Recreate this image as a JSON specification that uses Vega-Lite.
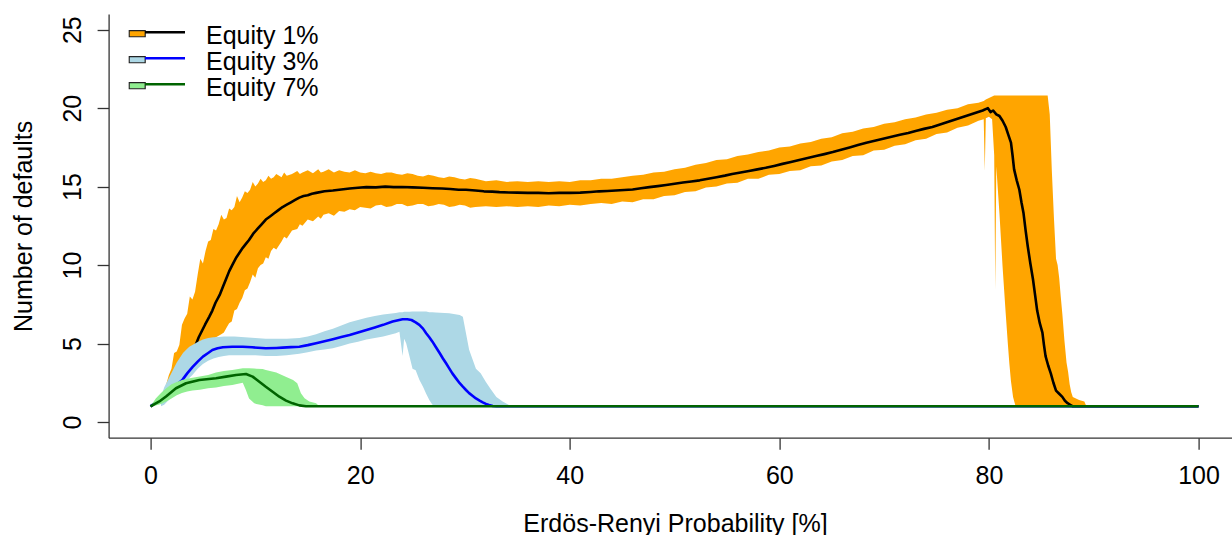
{
  "$schema": "https://vega.github.io/schema/vega-lite/v6.json",
  "width": 1123.4,
  "height": 423.7,
  "autosize": {"type": "none"},
  "padding": {"left": 108.6, "top": 14, "right": 0, "bottom": 97.3},
  "background": "white",
  "config": {
    "view": {"stroke": null},
    "font": "Liberation Sans",
    "axis": {
      "grid": false,
      "domainColor": "#333",
      "domainWidth": 1.3,
      "tickColor": "#333",
      "tickWidth": 1.3,
      "tickSize": 11.5,
      "labelFont": "Liberation Sans",
      "labelFontSize": 25,
      "labelColor": "#000",
      "titleFont": "Liberation Sans",
      "titleFontSize": 25,
      "titleFontWeight": "normal",
      "titleColor": "#000",
      "labelFlush": false,
      "labelOverlap": false
    }
  },
  "datasets": {
    "b1": [
      {"band":"Equity 1%","x":1.5,"lo":2.0,"hi":2.4},{"band":"Equity 1%","x":1.75,"lo":2.2,"hi":3.0},{"band":"Equity 1%","x":2.0,"lo":2.5,"hi":3.4},{"band":"Equity 1%","x":2.25,"lo":2.7,"hi":4.4},
      {"band":"Equity 1%","x":2.5,"lo":3.0,"hi":4.5},{"band":"Equity 1%","x":2.75,"lo":3.2,"hi":4.9},{"band":"Equity 1%","x":3.0,"lo":3.4,"hi":6.2},{"band":"Equity 1%","x":3.25,"lo":3.6,"hi":6.6},
      {"band":"Equity 1%","x":3.5,"lo":3.8,"hi":6.9},{"band":"Equity 1%","x":3.75,"lo":4.0,"hi":8.0},{"band":"Equity 1%","x":4.0,"lo":4.2,"hi":7.8},{"band":"Equity 1%","x":4.25,"lo":4.4,"hi":8.3},
      {"band":"Equity 1%","x":4.5,"lo":4.5,"hi":9.4},{"band":"Equity 1%","x":4.75,"lo":4.6,"hi":10.4},{"band":"Equity 1%","x":5.0,"lo":4.8,"hi":10.1},{"band":"Equity 1%","x":5.25,"lo":4.9,"hi":10.9},
      {"band":"Equity 1%","x":5.5,"lo":5.0,"hi":11.5},{"band":"Equity 1%","x":5.75,"lo":5.2,"hi":11.6},{"band":"Equity 1%","x":6.0,"lo":5.3,"hi":12.3},{"band":"Equity 1%","x":6.25,"lo":5.4,"hi":12.2},
      {"band":"Equity 1%","x":6.5,"lo":5.5,"hi":12.6},{"band":"Equity 1%","x":6.75,"lo":5.6,"hi":13.2},{"band":"Equity 1%","x":7.0,"lo":5.7,"hi":12.9},{"band":"Equity 1%","x":7.25,"lo":6.0,"hi":13.0},
      {"band":"Equity 1%","x":7.5,"lo":6.3,"hi":13.6},{"band":"Equity 1%","x":7.75,"lo":6.4,"hi":13.5},{"band":"Equity 1%","x":8.0,"lo":7.1,"hi":13.7},{"band":"Equity 1%","x":8.25,"lo":7.2,"hi":14.4},
      {"band":"Equity 1%","x":8.5,"lo":7.6,"hi":14.0},{"band":"Equity 1%","x":8.75,"lo":7.9,"hi":14.3},{"band":"Equity 1%","x":9.0,"lo":8.4,"hi":14.7},{"band":"Equity 1%","x":9.25,"lo":8.5,"hi":14.6},
      {"band":"Equity 1%","x":9.5,"lo":8.9,"hi":14.8},{"band":"Equity 1%","x":9.75,"lo":9.4,"hi":15.3},{"band":"Equity 1%","x":10.0,"lo":9.2,"hi":15.0},{"band":"Equity 1%","x":10.25,"lo":9.8,"hi":15.2},
      {"band":"Equity 1%","x":10.5,"lo":10.0,"hi":15.5},{"band":"Equity 1%","x":10.75,"lo":10.1,"hi":15.3},{"band":"Equity 1%","x":11.0,"lo":10.5,"hi":15.4},{"band":"Equity 1%","x":11.25,"lo":10.4,"hi":15.7},
      {"band":"Equity 1%","x":11.5,"lo":10.9,"hi":15.5},{"band":"Equity 1%","x":11.75,"lo":11.1,"hi":15.6},{"band":"Equity 1%","x":12.0,"lo":11.0,"hi":15.8},{"band":"Equity 1%","x":12.5,"lo":11.5,"hi":15.6},
      {"band":"Equity 1%","x":12.75,"lo":11.8,"hi":15.9},{"band":"Equity 1%","x":13.0,"lo":11.7,"hi":15.7},{"band":"Equity 1%","x":13.5,"lo":12.2,"hi":15.8},{"band":"Equity 1%","x":14.0,"lo":12.3,"hi":16.0},
      {"band":"Equity 1%","x":14.25,"lo":12.6,"hi":15.8},{"band":"Equity 1%","x":14.5,"lo":12.5,"hi":15.9},{"band":"Equity 1%","x":15.0,"lo":12.9,"hi":16.05},{"band":"Equity 1%","x":15.5,"lo":12.8,"hi":15.85},
      {"band":"Equity 1%","x":16.0,"lo":13.1,"hi":16.1},{"band":"Equity 1%","x":16.25,"lo":12.95,"hi":15.9},{"band":"Equity 1%","x":16.5,"lo":13.2,"hi":15.95},{"band":"Equity 1%","x":17.0,"lo":13.3,"hi":16.1},
      {"band":"Equity 1%","x":17.5,"lo":13.15,"hi":15.9},{"band":"Equity 1%","x":18.0,"lo":13.45,"hi":16.05},{"band":"Equity 1%","x":18.5,"lo":13.4,"hi":15.95},{"band":"Equity 1%","x":19.0,"lo":13.55,"hi":15.9},
      {"band":"Equity 1%","x":19.5,"lo":13.5,"hi":16.05},{"band":"Equity 1%","x":20.0,"lo":13.7,"hi":15.9},{"band":"Equity 1%","x":20.5,"lo":13.65,"hi":15.85},{"band":"Equity 1%","x":21,"lo":13.6,"hi":15.95},
      {"band":"Equity 1%","x":21.5,"lo":13.8,"hi":15.85},{"band":"Equity 1%","x":22,"lo":13.85,"hi":15.8},{"band":"Equity 1%","x":22.5,"lo":13.7,"hi":15.9},{"band":"Equity 1%","x":23,"lo":13.75,"hi":15.9},
      {"band":"Equity 1%","x":23.5,"lo":13.9,"hi":15.8},{"band":"Equity 1%","x":24,"lo":13.9,"hi":15.75},{"band":"Equity 1%","x":24.5,"lo":13.75,"hi":15.85},{"band":"Equity 1%","x":25,"lo":13.8,"hi":15.8},
      {"band":"Equity 1%","x":25.5,"lo":13.9,"hi":15.7},{"band":"Equity 1%","x":26,"lo":13.9,"hi":15.65},{"band":"Equity 1%","x":26.5,"lo":13.75,"hi":15.75},{"band":"Equity 1%","x":27,"lo":13.8,"hi":15.7},
      {"band":"Equity 1%","x":27.5,"lo":13.9,"hi":15.6},{"band":"Equity 1%","x":28,"lo":13.85,"hi":15.55},{"band":"Equity 1%","x":28.5,"lo":13.7,"hi":15.65},{"band":"Equity 1%","x":29,"lo":13.75,"hi":15.6},
      {"band":"Equity 1%","x":29.5,"lo":13.85,"hi":15.5},{"band":"Equity 1%","x":30,"lo":13.8,"hi":15.45},{"band":"Equity 1%","x":30.5,"lo":13.65,"hi":15.55},{"band":"Equity 1%","x":31,"lo":13.7,"hi":15.5},
      {"band":"Equity 1%","x":32,"lo":13.75,"hi":15.35},{"band":"Equity 1%","x":33,"lo":13.7,"hi":15.4},{"band":"Equity 1%","x":34,"lo":13.75,"hi":15.3},{"band":"Equity 1%","x":35,"lo":13.7,"hi":15.35},
      {"band":"Equity 1%","x":36,"lo":13.75,"hi":15.3},{"band":"Equity 1%","x":37,"lo":13.7,"hi":15.35},{"band":"Equity 1%","x":38,"lo":13.8,"hi":15.3},{"band":"Equity 1%","x":39,"lo":13.75,"hi":15.35},
      {"band":"Equity 1%","x":40,"lo":13.85,"hi":15.3},{"band":"Equity 1%","x":41,"lo":13.8,"hi":15.4},{"band":"Equity 1%","x":42,"lo":13.9,"hi":15.4},{"band":"Equity 1%","x":43,"lo":13.95,"hi":15.5},
      {"band":"Equity 1%","x":44,"lo":13.9,"hi":15.5},{"band":"Equity 1%","x":45,"lo":14.05,"hi":15.6},{"band":"Equity 1%","x":46,"lo":14.0,"hi":15.7},{"band":"Equity 1%","x":47,"lo":14.2,"hi":15.75},
      {"band":"Equity 1%","x":48,"lo":14.2,"hi":15.9},{"band":"Equity 1%","x":49,"lo":14.4,"hi":15.95},{"band":"Equity 1%","x":50,"lo":14.45,"hi":16.1},{"band":"Equity 1%","x":51,"lo":14.65,"hi":16.2},
      {"band":"Equity 1%","x":52,"lo":14.7,"hi":16.4},{"band":"Equity 1%","x":53,"lo":14.95,"hi":16.5},{"band":"Equity 1%","x":54,"lo":15.0,"hi":16.7},{"band":"Equity 1%","x":55,"lo":15.2,"hi":16.75},
      {"band":"Equity 1%","x":56,"lo":15.25,"hi":16.95},{"band":"Equity 1%","x":57,"lo":15.5,"hi":17.05},{"band":"Equity 1%","x":58,"lo":15.5,"hi":17.2},{"band":"Equity 1%","x":59,"lo":15.75,"hi":17.3},
      {"band":"Equity 1%","x":60,"lo":15.8,"hi":17.5},{"band":"Equity 1%","x":61,"lo":16.0,"hi":17.55},{"band":"Equity 1%","x":62,"lo":16.05,"hi":17.75},{"band":"Equity 1%","x":63,"lo":16.3,"hi":17.85},
      {"band":"Equity 1%","x":64,"lo":16.35,"hi":18.05},{"band":"Equity 1%","x":65,"lo":16.6,"hi":18.15},{"band":"Equity 1%","x":66,"lo":16.7,"hi":18.4},{"band":"Equity 1%","x":67,"lo":16.95,"hi":18.5},
      {"band":"Equity 1%","x":68,"lo":17.0,"hi":18.7},{"band":"Equity 1%","x":69,"lo":17.3,"hi":18.8},{"band":"Equity 1%","x":70,"lo":17.35,"hi":19.0},{"band":"Equity 1%","x":71,"lo":17.6,"hi":19.1},
      {"band":"Equity 1%","x":72,"lo":17.7,"hi":19.3},{"band":"Equity 1%","x":73,"lo":17.95,"hi":19.4},{"band":"Equity 1%","x":74,"lo":18.05,"hi":19.6},{"band":"Equity 1%","x":75,"lo":18.35,"hi":19.7},
      {"band":"Equity 1%","x":76,"lo":18.45,"hi":19.9},{"band":"Equity 1%","x":77,"lo":18.75,"hi":20.0},{"band":"Equity 1%","x":78,"lo":18.9,"hi":20.25},{"band":"Equity 1%","x":79,"lo":19.2,"hi":20.35},
      {"band":"Equity 1%","x":79.5,"lo":19.3,"hi":20.45},{"band":"Equity 1%","x":79.6,"lo":16.0,"hi":20.5},{"band":"Equity 1%","x":79.7,"lo":19.35,"hi":20.55},{"band":"Equity 1%","x":80.0,"lo":19.45,"hi":20.65},
      {"band":"Equity 1%","x":80.3,"lo":19.3,"hi":20.75},{"band":"Equity 1%","x":80.5,"lo":17.0,"hi":20.8},{"band":"Equity 1%","x":80.6,"lo":8.4,"hi":20.8},{"band":"Equity 1%","x":80.7,"lo":16.3,"hi":20.8},
      {"band":"Equity 1%","x":80.85,"lo":14.8,"hi":20.8},{"band":"Equity 1%","x":81.0,"lo":13.3,"hi":20.8},{"band":"Equity 1%","x":81.15,"lo":11.6,"hi":20.8},{"band":"Equity 1%","x":81.3,"lo":9.9,"hi":20.8},
      {"band":"Equity 1%","x":81.45,"lo":8.4,"hi":20.8},{"band":"Equity 1%","x":81.6,"lo":6.9,"hi":20.8},{"band":"Equity 1%","x":81.8,"lo":5.0,"hi":20.8},{"band":"Equity 1%","x":81.95,"lo":3.7,"hi":20.8},
      {"band":"Equity 1%","x":82.1,"lo":2.6,"hi":20.8},{"band":"Equity 1%","x":82.3,"lo":1.6,"hi":20.8},{"band":"Equity 1%","x":82.5,"lo":1.1,"hi":20.8},{"band":"Equity 1%","x":82.6,"lo":1.0,"hi":20.8},
      {"band":"Equity 1%","x":84.0,"lo":1.0,"hi":20.8},{"band":"Equity 1%","x":85.6,"lo":1.0,"hi":20.8},{"band":"Equity 1%","x":85.8,"lo":1.0,"hi":19.6},{"band":"Equity 1%","x":86.0,"lo":1.0,"hi":16.0},
      {"band":"Equity 1%","x":86.2,"lo":1.0,"hi":13.0},{"band":"Equity 1%","x":86.4,"lo":1.0,"hi":10.4},{"band":"Equity 1%","x":86.55,"lo":1.0,"hi":10.0},{"band":"Equity 1%","x":86.7,"lo":1.0,"hi":9.2},
      {"band":"Equity 1%","x":86.85,"lo":1.0,"hi":8.0},{"band":"Equity 1%","x":87.0,"lo":1.0,"hi":6.9},{"band":"Equity 1%","x":87.2,"lo":1.0,"hi":5.2},{"band":"Equity 1%","x":87.4,"lo":1.0,"hi":3.8},
      {"band":"Equity 1%","x":87.55,"lo":1.0,"hi":3.2},{"band":"Equity 1%","x":87.7,"lo":1.0,"hi":2.4},{"band":"Equity 1%","x":87.85,"lo":1.0,"hi":1.9},{"band":"Equity 1%","x":88.0,"lo":1.0,"hi":1.6},
      {"band":"Equity 1%","x":88.3,"lo":1.0,"hi":1.5},{"band":"Equity 1%","x":88.6,"lo":1.0,"hi":1.4},{"band":"Equity 1%","x":89.1,"lo":1.0,"hi":1.3},{"band":"Equity 1%","x":89.3,"lo":1.0,"hi":1.0}
    ],
    "l1": [
      {"series":"Equity 1%","x":0,"y":1.0},{"series":"Equity 1%","x":1,"y":1.4},{"series":"Equity 1%","x":2,"y":2.2},{"series":"Equity 1%","x":3,"y":3.3},
      {"series":"Equity 1%","x":3.5,"y":3.9},{"series":"Equity 1%","x":4.0,"y":4.5},{"series":"Equity 1%","x":4.3,"y":4.9},{"series":"Equity 1%","x":4.6,"y":5.4},
      {"series":"Equity 1%","x":4.9,"y":5.8},{"series":"Equity 1%","x":5.2,"y":6.2},{"series":"Equity 1%","x":5.6,"y":6.7},{"series":"Equity 1%","x":5.9,"y":7.1},
      {"series":"Equity 1%","x":6.2,"y":7.6},{"series":"Equity 1%","x":6.6,"y":8.1},{"series":"Equity 1%","x":6.9,"y":8.6},{"series":"Equity 1%","x":7.2,"y":9.1},
      {"series":"Equity 1%","x":7.5,"y":9.6},{"series":"Equity 1%","x":7.8,"y":10.0},{"series":"Equity 1%","x":8.2,"y":10.5},{"series":"Equity 1%","x":8.5,"y":10.8},
      {"series":"Equity 1%","x":8.8,"y":11.1},{"series":"Equity 1%","x":9.1,"y":11.35},{"series":"Equity 1%","x":9.4,"y":11.6},{"series":"Equity 1%","x":9.8,"y":12.0},
      {"series":"Equity 1%","x":10.2,"y":12.3},{"series":"Equity 1%","x":10.6,"y":12.6},{"series":"Equity 1%","x":11.0,"y":12.9},{"series":"Equity 1%","x":11.4,"y":13.1},
      {"series":"Equity 1%","x":11.8,"y":13.3},{"series":"Equity 1%","x":12.2,"y":13.5},{"series":"Equity 1%","x":12.6,"y":13.7},{"series":"Equity 1%","x":13.0,"y":13.85},
      {"series":"Equity 1%","x":13.4,"y":14.0},{"series":"Equity 1%","x":13.8,"y":14.15},{"series":"Equity 1%","x":14.2,"y":14.3},{"series":"Equity 1%","x":14.6,"y":14.4},
      {"series":"Equity 1%","x":15.0,"y":14.45},{"series":"Equity 1%","x":15.4,"y":14.55},{"series":"Equity 1%","x":15.8,"y":14.6},{"series":"Equity 1%","x":16.6,"y":14.7},
      {"series":"Equity 1%","x":17.4,"y":14.75},{"series":"Equity 1%","x":18.2,"y":14.82},{"series":"Equity 1%","x":19.0,"y":14.88},{"series":"Equity 1%","x":19.8,"y":14.93},
      {"series":"Equity 1%","x":20.6,"y":14.97},{"series":"Equity 1%","x":21.5,"y":14.95},{"series":"Equity 1%","x":22.4,"y":15.0},{"series":"Equity 1%","x":23.2,"y":14.97},
      {"series":"Equity 1%","x":24.0,"y":14.98},{"series":"Equity 1%","x":25.0,"y":14.95},{"series":"Equity 1%","x":26.0,"y":14.93},{"series":"Equity 1%","x":26.9,"y":14.9},
      {"series":"Equity 1%","x":27.8,"y":14.88},{"series":"Equity 1%","x":28.6,"y":14.85},{"series":"Equity 1%","x":29.4,"y":14.8},{"series":"Equity 1%","x":30.1,"y":14.8},
      {"series":"Equity 1%","x":31.0,"y":14.75},{"series":"Equity 1%","x":31.8,"y":14.7},{"series":"Equity 1%","x":32.6,"y":14.68},{"series":"Equity 1%","x":33.3,"y":14.65},
      {"series":"Equity 1%","x":34.2,"y":14.63},{"series":"Equity 1%","x":35.0,"y":14.62},{"series":"Equity 1%","x":36.0,"y":14.6},{"series":"Equity 1%","x":37.0,"y":14.6},
      {"series":"Equity 1%","x":38.0,"y":14.58},{"series":"Equity 1%","x":39.0,"y":14.6},{"series":"Equity 1%","x":40.0,"y":14.6},{"series":"Equity 1%","x":41.0,"y":14.62},
      {"series":"Equity 1%","x":42.0,"y":14.66},{"series":"Equity 1%","x":42.8,"y":14.7},{"series":"Equity 1%","x":43.6,"y":14.72},{"series":"Equity 1%","x":44.4,"y":14.75},
      {"series":"Equity 1%","x":45.2,"y":14.78},{"series":"Equity 1%","x":46.0,"y":14.82},{"series":"Equity 1%","x":46.8,"y":14.9},{"series":"Equity 1%","x":47.6,"y":14.97},
      {"series":"Equity 1%","x":48.4,"y":15.03},{"series":"Equity 1%","x":49.2,"y":15.1},{"series":"Equity 1%","x":50.0,"y":15.18},{"series":"Equity 1%","x":50.8,"y":15.26},
      {"series":"Equity 1%","x":51.6,"y":15.33},{"series":"Equity 1%","x":52.4,"y":15.4},{"series":"Equity 1%","x":53.2,"y":15.5},{"series":"Equity 1%","x":54.0,"y":15.6},
      {"series":"Equity 1%","x":54.8,"y":15.7},{"series":"Equity 1%","x":55.5,"y":15.8},{"series":"Equity 1%","x":56.3,"y":15.9},{"series":"Equity 1%","x":57.1,"y":16.0},
      {"series":"Equity 1%","x":57.9,"y":16.1},{"series":"Equity 1%","x":58.7,"y":16.2},{"series":"Equity 1%","x":59.5,"y":16.32},{"series":"Equity 1%","x":60.3,"y":16.45},
      {"series":"Equity 1%","x":61.1,"y":16.57},{"series":"Equity 1%","x":61.9,"y":16.7},{"series":"Equity 1%","x":62.7,"y":16.82},{"series":"Equity 1%","x":63.5,"y":16.95},
      {"series":"Equity 1%","x":64.3,"y":17.07},{"series":"Equity 1%","x":65.1,"y":17.2},{"series":"Equity 1%","x":65.9,"y":17.35},{"series":"Equity 1%","x":66.7,"y":17.5},
      {"series":"Equity 1%","x":67.5,"y":17.65},{"series":"Equity 1%","x":68.3,"y":17.8},{"series":"Equity 1%","x":69.1,"y":17.93},{"series":"Equity 1%","x":69.9,"y":18.05},
      {"series":"Equity 1%","x":70.7,"y":18.18},{"series":"Equity 1%","x":71.5,"y":18.3},{"series":"Equity 1%","x":72.3,"y":18.42},{"series":"Equity 1%","x":73.0,"y":18.55},
      {"series":"Equity 1%","x":73.8,"y":18.68},{"series":"Equity 1%","x":74.6,"y":18.8},{"series":"Equity 1%","x":75.4,"y":18.97},{"series":"Equity 1%","x":76.2,"y":19.15},
      {"series":"Equity 1%","x":77.0,"y":19.33},{"series":"Equity 1%","x":77.8,"y":19.5},{"series":"Equity 1%","x":78.6,"y":19.68},{"series":"Equity 1%","x":79.4,"y":19.85},
      {"series":"Equity 1%","x":79.9,"y":20.0},{"series":"Equity 1%","x":80.15,"y":19.75},{"series":"Equity 1%","x":80.4,"y":19.85},{"series":"Equity 1%","x":80.7,"y":19.6},
      {"series":"Equity 1%","x":81.0,"y":19.5},{"series":"Equity 1%","x":81.3,"y":19.2},{"series":"Equity 1%","x":81.6,"y":18.8},{"series":"Equity 1%","x":81.85,"y":18.3},
      {"series":"Equity 1%","x":82.1,"y":17.8},{"series":"Equity 1%","x":82.25,"y":17.0},{"series":"Equity 1%","x":82.4,"y":16.1},{"series":"Equity 1%","x":82.65,"y":15.4},
      {"series":"Equity 1%","x":82.9,"y":14.8},{"series":"Equity 1%","x":83.1,"y":14.0},{"series":"Equity 1%","x":83.3,"y":13.3},{"series":"Equity 1%","x":83.5,"y":12.2},
      {"series":"Equity 1%","x":83.7,"y":11.2},{"series":"Equity 1%","x":83.95,"y":10.1},{"series":"Equity 1%","x":84.2,"y":9.1},{"series":"Equity 1%","x":84.4,"y":8.1},
      {"series":"Equity 1%","x":84.6,"y":7.1},{"series":"Equity 1%","x":84.85,"y":6.3},{"series":"Equity 1%","x":85.1,"y":5.7},{"series":"Equity 1%","x":85.25,"y":4.9},
      {"series":"Equity 1%","x":85.4,"y":4.2},{"series":"Equity 1%","x":85.65,"y":3.6},{"series":"Equity 1%","x":85.9,"y":3.1},{"series":"Equity 1%","x":86.15,"y":2.5},
      {"series":"Equity 1%","x":86.4,"y":2.0},{"series":"Equity 1%","x":86.7,"y":1.8},{"series":"Equity 1%","x":87.0,"y":1.6},{"series":"Equity 1%","x":87.25,"y":1.35},
      {"series":"Equity 1%","x":87.5,"y":1.2},{"series":"Equity 1%","x":87.75,"y":1.1},{"series":"Equity 1%","x":88.0,"y":1.0},{"series":"Equity 1%","x":100,"y":1.0}
    ],
    "b3": [
      {"band":"Equity 3%","x":1.0,"lo":1.0,"hi":1.6},{"band":"Equity 3%","x":1.3,"lo":1.1,"hi":2.2},{"band":"Equity 3%","x":1.6,"lo":1.3,"hi":2.6},{"band":"Equity 3%","x":1.9,"lo":1.5,"hi":3.0},
      {"band":"Equity 3%","x":2.2,"lo":1.7,"hi":3.4},{"band":"Equity 3%","x":2.5,"lo":1.9,"hi":3.8},{"band":"Equity 3%","x":2.8,"lo":2.1,"hi":4.1},{"band":"Equity 3%","x":3.1,"lo":2.3,"hi":4.4},
      {"band":"Equity 3%","x":3.4,"lo":2.6,"hi":4.6},{"band":"Equity 3%","x":3.7,"lo":2.8,"hi":4.8},{"band":"Equity 3%","x":4.0,"lo":3.0,"hi":4.9},{"band":"Equity 3%","x":4.5,"lo":3.4,"hi":5.1},
      {"band":"Equity 3%","x":5.0,"lo":3.7,"hi":5.25},{"band":"Equity 3%","x":5.5,"lo":3.9,"hi":5.35},{"band":"Equity 3%","x":6.0,"lo":4.05,"hi":5.4},{"band":"Equity 3%","x":6.5,"lo":4.15,"hi":5.42},
      {"band":"Equity 3%","x":7.0,"lo":4.2,"hi":5.45},{"band":"Equity 3%","x":7.5,"lo":4.25,"hi":5.45},{"band":"Equity 3%","x":8.0,"lo":4.25,"hi":5.45},{"band":"Equity 3%","x":9.0,"lo":4.25,"hi":5.4},
      {"band":"Equity 3%","x":10.0,"lo":4.25,"hi":5.35},{"band":"Equity 3%","x":11.0,"lo":4.2,"hi":5.3},{"band":"Equity 3%","x":12.0,"lo":4.2,"hi":5.3},{"band":"Equity 3%","x":13.0,"lo":4.25,"hi":5.3},
      {"band":"Equity 3%","x":14.2,"lo":4.35,"hi":5.35},{"band":"Equity 3%","x":15.0,"lo":4.45,"hi":5.45},{"band":"Equity 3%","x":15.8,"lo":4.55,"hi":5.6},{"band":"Equity 3%","x":16.6,"lo":4.62,"hi":5.78},
      {"band":"Equity 3%","x":17.4,"lo":4.7,"hi":5.95},{"band":"Equity 3%","x":18.2,"lo":4.85,"hi":6.15},{"band":"Equity 3%","x":19.0,"lo":5.0,"hi":6.35},{"band":"Equity 3%","x":19.8,"lo":5.12,"hi":6.5},
      {"band":"Equity 3%","x":20.6,"lo":5.25,"hi":6.65},{"band":"Equity 3%","x":21.4,"lo":5.35,"hi":6.75},{"band":"Equity 3%","x":22.2,"lo":5.45,"hi":6.85},{"band":"Equity 3%","x":23.4,"lo":5.65,"hi":6.95},
      {"band":"Equity 3%","x":23.75,"lo":5.75,"hi":7.0},{"band":"Equity 3%","x":24.05,"lo":4.2,"hi":7.0},{"band":"Equity 3%","x":24.2,"lo":5.3,"hi":7.02},{"band":"Equity 3%","x":24.4,"lo":5.0,"hi":7.03},
      {"band":"Equity 3%","x":24.7,"lo":4.2,"hi":7.03},{"band":"Equity 3%","x":25.0,"lo":3.4,"hi":7.04},{"band":"Equity 3%","x":25.3,"lo":3.3,"hi":7.04},{"band":"Equity 3%","x":25.65,"lo":2.7,"hi":7.04},
      {"band":"Equity 3%","x":26.0,"lo":2.25,"hi":7.04},{"band":"Equity 3%","x":26.3,"lo":1.8,"hi":7.04},{"band":"Equity 3%","x":26.6,"lo":1.4,"hi":7.0},{"band":"Equity 3%","x":26.9,"lo":1.1,"hi":7.0},
      {"band":"Equity 3%","x":27.2,"lo":1.0,"hi":6.98},{"band":"Equity 3%","x":28.5,"lo":1.0,"hi":6.93},{"band":"Equity 3%","x":29.5,"lo":1.0,"hi":6.82},{"band":"Equity 3%","x":29.8,"lo":1.0,"hi":6.7},
      {"band":"Equity 3%","x":30.1,"lo":1.0,"hi":5.65},{"band":"Equity 3%","x":30.4,"lo":1.0,"hi":4.6},{"band":"Equity 3%","x":30.75,"lo":1.0,"hi":3.95},{"band":"Equity 3%","x":31.05,"lo":1.0,"hi":3.4},
      {"band":"Equity 3%","x":31.5,"lo":1.0,"hi":3.1},{"band":"Equity 3%","x":32.0,"lo":1.0,"hi":2.55},{"band":"Equity 3%","x":32.5,"lo":1.0,"hi":2.05},{"band":"Equity 3%","x":33.0,"lo":1.0,"hi":1.6},
      {"band":"Equity 3%","x":33.6,"lo":1.0,"hi":1.3},{"band":"Equity 3%","x":34.2,"lo":1.0,"hi":1.08},{"band":"Equity 3%","x":34.5,"lo":1.0,"hi":1.0}
    ],
    "l3": [
      {"series":"Equity 3%","x":0,"y":1.0},{"series":"Equity 3%","x":1.0,"y":1.5},{"series":"Equity 3%","x":2.0,"y":2.1},{"series":"Equity 3%","x":3.06,"y":2.7},
      {"series":"Equity 3%","x":3.5,"y":3.1},{"series":"Equity 3%","x":4.0,"y":3.5},{"series":"Equity 3%","x":4.5,"y":3.85},{"series":"Equity 3%","x":5.0,"y":4.17},
      {"series":"Equity 3%","x":5.5,"y":4.4},{"series":"Equity 3%","x":5.9,"y":4.59},{"series":"Equity 3%","x":6.4,"y":4.7},{"series":"Equity 3%","x":6.9,"y":4.76},
      {"series":"Equity 3%","x":7.8,"y":4.8},{"series":"Equity 3%","x":8.8,"y":4.8},{"series":"Equity 3%","x":9.7,"y":4.76},{"series":"Equity 3%","x":11.0,"y":4.7},
      {"series":"Equity 3%","x":12.0,"y":4.72},{"series":"Equity 3%","x":12.6,"y":4.74},{"series":"Equity 3%","x":13.4,"y":4.77},{"series":"Equity 3%","x":14.2,"y":4.8},
      {"series":"Equity 3%","x":15.0,"y":4.9},{"series":"Equity 3%","x":15.8,"y":5.02},{"series":"Equity 3%","x":16.6,"y":5.14},{"series":"Equity 3%","x":17.4,"y":5.27},
      {"series":"Equity 3%","x":18.2,"y":5.41},{"series":"Equity 3%","x":19.0,"y":5.55},{"series":"Equity 3%","x":19.8,"y":5.71},{"series":"Equity 3%","x":20.6,"y":5.87},
      {"series":"Equity 3%","x":21.4,"y":6.03},{"series":"Equity 3%","x":22.2,"y":6.19},{"series":"Equity 3%","x":23.1,"y":6.4},{"series":"Equity 3%","x":24.05,"y":6.55},
      {"series":"Equity 3%","x":24.5,"y":6.55},{"series":"Equity 3%","x":24.9,"y":6.5},{"series":"Equity 3%","x":25.3,"y":6.35},{"series":"Equity 3%","x":25.65,"y":6.19},
      {"series":"Equity 3%","x":26.0,"y":5.95},{"series":"Equity 3%","x":26.3,"y":5.66},{"series":"Equity 3%","x":26.6,"y":5.4},{"series":"Equity 3%","x":26.9,"y":5.12},
      {"series":"Equity 3%","x":27.25,"y":4.75},{"series":"Equity 3%","x":27.6,"y":4.38},{"series":"Equity 3%","x":27.9,"y":4.05},{"series":"Equity 3%","x":28.2,"y":3.74},
      {"series":"Equity 3%","x":28.5,"y":3.42},{"series":"Equity 3%","x":28.8,"y":3.1},{"series":"Equity 3%","x":29.15,"y":2.78},{"series":"Equity 3%","x":29.5,"y":2.47},
      {"series":"Equity 3%","x":29.8,"y":2.25},{"series":"Equity 3%","x":30.1,"y":2.04},{"series":"Equity 3%","x":30.4,"y":1.84},{"series":"Equity 3%","x":30.75,"y":1.66},
      {"series":"Equity 3%","x":31.05,"y":1.5},{"series":"Equity 3%","x":31.4,"y":1.36},{"series":"Equity 3%","x":31.7,"y":1.25},{"series":"Equity 3%","x":32.0,"y":1.15},
      {"series":"Equity 3%","x":32.3,"y":1.08},{"series":"Equity 3%","x":32.65,"y":1.02},{"series":"Equity 3%","x":33.0,"y":1.0},{"series":"Equity 3%","x":100,"y":1.0}
    ],
    "b7": [
      {"band":"Equity 7%","x":0.0,"lo":1.0,"hi":1.0},{"band":"Equity 7%","x":0.5,"lo":1.05,"hi":1.5},{"band":"Equity 7%","x":1.0,"lo":1.15,"hi":1.85},{"band":"Equity 7%","x":1.5,"lo":1.3,"hi":2.15},
      {"band":"Equity 7%","x":2.0,"lo":1.5,"hi":2.4},{"band":"Equity 7%","x":2.5,"lo":1.7,"hi":2.55},{"band":"Equity 7%","x":3.0,"lo":1.85,"hi":2.68},{"band":"Equity 7%","x":3.5,"lo":1.95,"hi":2.75},
      {"band":"Equity 7%","x":4.0,"lo":2.0,"hi":2.82},{"band":"Equity 7%","x":4.7,"lo":2.05,"hi":2.9},{"band":"Equity 7%","x":5.5,"lo":2.15,"hi":3.0},{"band":"Equity 7%","x":6.25,"lo":2.2,"hi":3.15},
      {"band":"Equity 7%","x":7.0,"lo":2.3,"hi":3.25},{"band":"Equity 7%","x":7.8,"lo":2.36,"hi":3.32},{"band":"Equity 7%","x":8.8,"lo":2.5,"hi":3.42},{"band":"Equity 7%","x":9.1,"lo":2.04,"hi":3.42},
      {"band":"Equity 7%","x":9.4,"lo":1.5,"hi":3.42},{"band":"Equity 7%","x":9.9,"lo":1.2,"hi":3.41},{"band":"Equity 7%","x":10.1,"lo":1.15,"hi":3.4},{"band":"Equity 7%","x":10.7,"lo":1.06,"hi":3.38},
      {"band":"Equity 7%","x":11.0,"lo":1.0,"hi":3.32},{"band":"Equity 7%","x":12.0,"lo":1.0,"hi":3.15},{"band":"Equity 7%","x":12.9,"lo":1.0,"hi":2.89},{"band":"Equity 7%","x":13.6,"lo":1.0,"hi":2.68},
      {"band":"Equity 7%","x":14.0,"lo":1.0,"hi":2.47},{"band":"Equity 7%","x":14.35,"lo":1.0,"hi":1.83},{"band":"Equity 7%","x":14.7,"lo":1.0,"hi":1.51},{"band":"Equity 7%","x":15.15,"lo":1.0,"hi":1.3},
      {"band":"Equity 7%","x":15.8,"lo":1.0,"hi":1.19},{"band":"Equity 7%","x":16.1,"lo":1.0,"hi":1.0}
    ],
    "l7": [
      {"series":"Equity 7%","x":0.0,"y":1.0},{"series":"Equity 7%","x":0.84,"y":1.31},{"series":"Equity 7%","x":1.48,"y":1.63},{"series":"Equity 7%","x":2.43,"y":2.15},
      {"series":"Equity 7%","x":3.39,"y":2.47},{"series":"Equity 7%","x":4.66,"y":2.68},{"series":"Equity 7%","x":6.25,"y":2.79},{"series":"Equity 7%","x":7.2,"y":2.89},
      {"series":"Equity 7%","x":8.16,"y":3.0},{"series":"Equity 7%","x":9.11,"y":3.06},{"series":"Equity 7%","x":9.74,"y":2.89},{"series":"Equity 7%","x":10.38,"y":2.57},
      {"series":"Equity 7%","x":11.0,"y":2.25},{"series":"Equity 7%","x":11.65,"y":1.93},{"series":"Equity 7%","x":12.29,"y":1.61},{"series":"Equity 7%","x":12.93,"y":1.36},
      {"series":"Equity 7%","x":13.56,"y":1.19},{"series":"Equity 7%","x":14.2,"y":1.06},{"series":"Equity 7%","x":14.83,"y":1.0},{"series":"Equity 7%","x":100,"y":1.0}
    ]
  },
  "layer": [
    {
      "data": {"name": "b1"},
      "mark": {"type": "area", "opacity": 1, "interpolate": "linear"},
      "encoding": {
        "x": {
          "field": "x", "type": "quantitative", "title": "Erdös-Renyi Probability [%]",
          "scale": {"domain": [-4, 103.19], "nice": false, "zero": false},
          "axis": {
            "values": [0, 20, 40, 60, 80, 100],
            "labelAlign": "center", "labelBaseline": "alphabetic", "labelPadding": 33.8,
            "titleX": 566.4, "titleY": 93.6, "titleAlign": "center", "titleBaseline": "alphabetic"
          }
        },
        "y": {
          "field": "hi", "type": "quantitative", "title": "Number of defaults",
          "scale": {"domain": [-1, 26], "nice": false, "zero": false},
          "axis": {
            "values": [0, 5, 10, 15, 20, 25],
            "labelAngle": 270, "labelAlign": "center", "labelBaseline": "alphabetic", "labelPadding": 17.1,
            "titleAngle": 270, "titleX": -77.3, "titleY": 211.85, "titleAlign": "center", "titleBaseline": "alphabetic"
          }
        },
        "y2": {"field": "lo"},
        "fill": {
          "field": "band", "type": "nominal",
          "scale": {"range": ["#FFA500", "#ADD8E6", "#90EE90"]},
          "legend": {
            "orient": "none", "legendX": 19.6, "legendY": 9.4, "title": null, "padding": 0, "direction": "vertical",
            "symbolType": "M-1,-0.38H1V0.38H-1Z", "symbolSize": 256, "symbolOpacity": 1,
            "symbolStrokeColor": "#222", "symbolStrokeWidth": 1.2,
            "clipHeight": 25.8, "rowPadding": 0, "labelFontSize": 10, "labelOpacity": 0,
            "encode": {"symbols": {"update": {"y": {"value": 10.3}, "stroke": {"value": "#222"}, "strokeWidth": {"value": 1.2}}}}
          }
        }
      }
    },
    {
      "data": {"name": "l1"},
      "mark": {"type": "line", "strokeWidth": 2.6, "strokeJoin": "round"},
      "encoding": {
        "x": {"field": "x", "type": "quantitative", "title": "Erdös-Renyi Probability [%]"},
        "y": {"field": "y", "type": "quantitative", "title": "Number of defaults"},
        "stroke": {
          "field": "series", "type": "nominal",
          "scale": {"range": ["#000000", "#0000FF", "#006400"]},
          "legend": {
            "orient": "none", "legendX": 34.9, "legendY": 9.4, "title": null, "padding": 0, "direction": "vertical",
            "symbolType": "M-1,0H1", "symbolSize": 1600, "symbolStrokeWidth": 2.6, "symbolOpacity": 1,
            "clipHeight": 25.8, "rowPadding": 0,
            "labelFont": "Liberation Sans", "labelFontSize": 25, "labelColor": "#000", "labelOffset": 19.5,
            "labelBaseline": "alphabetic", "labelLimit": 400,
            "encode": {
              "symbols": {"update": {"y": {"value": 8.9}}},
              "labels": {"update": {"dy": {"value": 7.5}}}
            }
          }
        }
      }
    },
    {
      "data": {"name": "b3"},
      "mark": {"type": "area", "opacity": 1, "interpolate": "linear"},
      "encoding": {
        "x": {"field": "x", "type": "quantitative", "title": "Erdös-Renyi Probability [%]"},
        "y": {"field": "hi", "type": "quantitative", "title": "Number of defaults"},
        "y2": {"field": "lo"},
        "fill": {"field": "band", "type": "nominal"}
      }
    },
    {
      "data": {"name": "l3"},
      "mark": {"type": "line", "strokeWidth": 2.6, "strokeJoin": "round"},
      "encoding": {
        "x": {"field": "x", "type": "quantitative", "title": "Erdös-Renyi Probability [%]"},
        "y": {"field": "y", "type": "quantitative", "title": "Number of defaults"},
        "stroke": {"field": "series", "type": "nominal"}
      }
    },
    {
      "data": {"name": "b7"},
      "mark": {"type": "area", "opacity": 1, "interpolate": "linear"},
      "encoding": {
        "x": {"field": "x", "type": "quantitative", "title": "Erdös-Renyi Probability [%]"},
        "y": {"field": "hi", "type": "quantitative", "title": "Number of defaults"},
        "y2": {"field": "lo"},
        "fill": {"field": "band", "type": "nominal"}
      }
    },
    {
      "data": {"name": "l7"},
      "mark": {"type": "line", "strokeWidth": 2.6, "strokeJoin": "round"},
      "encoding": {
        "x": {"field": "x", "type": "quantitative", "title": "Erdös-Renyi Probability [%]"},
        "y": {"field": "y", "type": "quantitative", "title": "Number of defaults"},
        "stroke": {"field": "series", "type": "nominal"}
      }
    },
    {
      "mark": {"type": "rule", "color": "#333", "strokeWidth": 1.3},
      "encoding": {"y": {"datum": 26}}
    }
  ]
}
